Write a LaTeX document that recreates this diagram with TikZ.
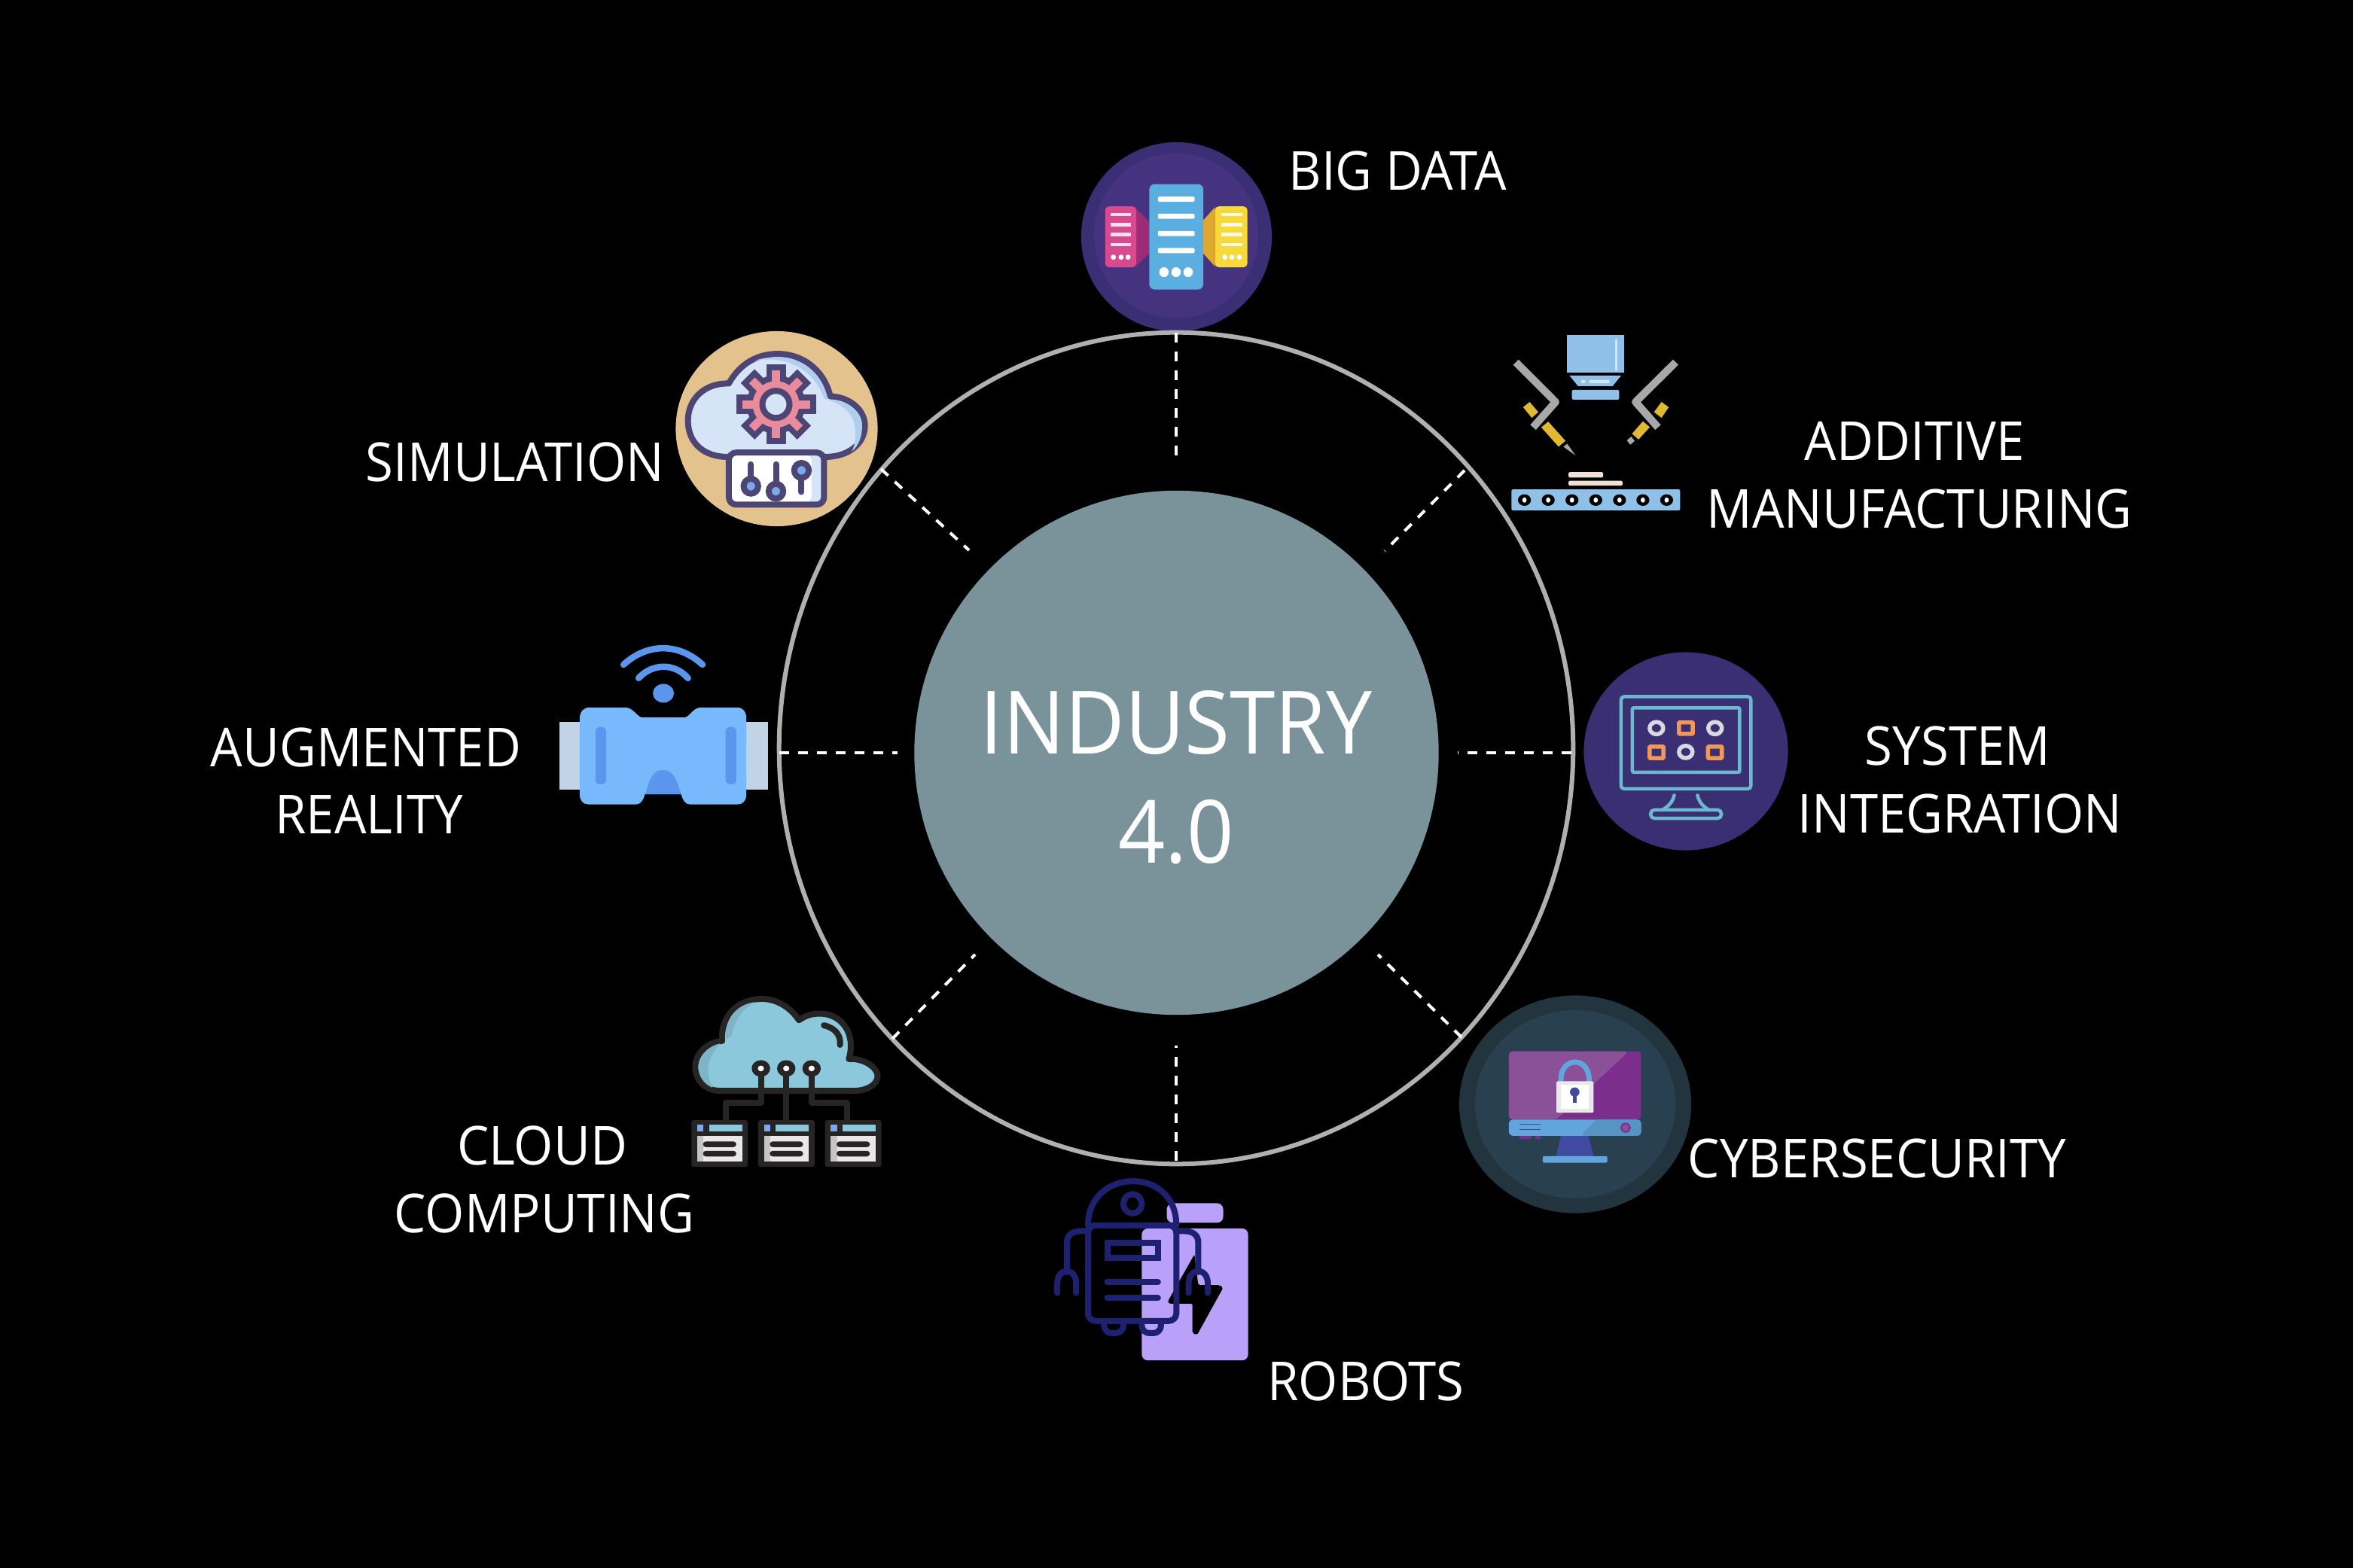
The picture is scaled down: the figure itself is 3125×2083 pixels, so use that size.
\documentclass[tikz,border=0pt]{standalone}
\usepackage{fontspec}
\setmainfont{Open Sans}[FakeStretch=0.94]
\usetikzlibrary{shapes.geometric}
\definecolor{hubgrey}{HTML}{7A9299}
\definecolor{ringgrey}{HTML}{B0B0B0}
\definecolor{dataouter}{HTML}{3A2F75}
\definecolor{datainner}{HTML}{45337F}
\definecolor{serverblue}{HTML}{5AAEE0}
\definecolor{serverpink}{HTML}{D8498F}
\definecolor{sidepink}{HTML}{9B2C75}
\definecolor{serveryellow}{HTML}{F8D93A}
\definecolor{sideyellow}{HTML}{E0A830}
\definecolor{printblue}{HTML}{8FC0E8}
\definecolor{armgrey}{HTML}{A8A8A8}
\definecolor{nozzle}{HTML}{E0B832}
\definecolor{plate}{HTML}{F0E0D5}
\definecolor{simdisc}{HTML}{E3C28E}
\definecolor{simline}{HTML}{4D4573}
\definecolor{simcloud}{HTML}{D6E4F7}
\definecolor{simshade}{HTML}{B0CFF0}
\definecolor{gearpink}{HTML}{E88B9C}
\definecolor{knob}{HTML}{7EA7EE}
\definecolor{vrdark}{HTML}{5B96EE}
\definecolor{vrbody}{HTML}{78B8FC}
\definecolor{vrstrap}{HTML}{C2D3E8}
\definecolor{cloudfill}{HTML}{8BC8DC}
\definecolor{cloudshade}{HTML}{7FB4C6}
\definecolor{cloudline}{HTML}{262425}
\definecolor{paper}{HTML}{E8E8E8}
\definecolor{botblue}{HTML}{1E2070}
\definecolor{botpurple}{HTML}{B9A0F8}
\definecolor{cyberouter}{HTML}{22343E}
\definecolor{cyberinner}{HTML}{28404F}
\definecolor{screenlight}{HTML}{8A5199}
\definecolor{screendark}{HTML}{7B2E8C}
\definecolor{barblue}{HTML}{62A5DD}
\definecolor{bardark}{HTML}{5594C5}
\definecolor{standblue}{HTML}{3F4AA0}
\definecolor{sysdisc}{HTML}{3A2F73}
\definecolor{sysline}{HTML}{6CB8CF}
\definecolor{sysorange}{HTML}{F0975A}
\definecolor{sysring}{HTML}{D8D8E0}
\tikzset{
  caption/.style={text=white,align=center,inner sep=0pt,font=\fontsize{20.3}{25.5}\selectfont},
  title/.style={text=white,align=center,inner sep=0pt,font=\fontsize{33}{41.4}\selectfont},
  disc/.style={ellipse,inner sep=0pt,outer sep=0pt},
  spoke/.style={white,line width=0.04cm,dash pattern=on 0.13cm off 0.12cm},
  zoomtop/.style={shift={(1400,170)},x=0.00574cm,y=-0.003827cm},
  zoomleft/.style={shift={(720,420)},x=0.003333cm,y=-0.004464cm},
  zoomlow/.style={shift={(880,1300)},x=0.005102cm,y=-0.003444cm},
  zoomright/.style={shift={(1900,850)},x=0.003333cm,y=-0.005102cm},
  simstroke/.style={draw=simline,line width=0.08cm},
  cloudstroke/.style={draw=cloudline,line width=0.08cm,line join=round},
  botstroke/.style={draw=botblue,line width=0.08cm,line cap=round},
  sysstroke/.style={draw=sysline,line width=0.045cm}
}
\begin{document}
\begin{tikzpicture}[x=0.01cm,y=-0.01cm]
  \fill[black] (0,0) rectangle (3125,2083);
  \useasboundingbox (0,0) rectangle (3125,2083);

  \node[disc,fill=dataouter,minimum width=2.53cm,minimum height=2.51cm] (bigdata) at (1562.5,314.5) {};
  \node[disc,fill=datainner,minimum width=2.18cm,minimum height=2.19cm] (bigdatain) at (1562,313) {};
  \begin{scope}[zoomtop]
    \fill[sidepink] (190,280) -- (220,325) -- (220,435) -- (190,478) -- cycle;
    \fill[sideyellow] (372,275) -- (345,320) -- (345,435) -- (372,480) -- cycle;
    \fill[serverpink,rounded corners=0.05cm] (118,272) rectangle (190,483);
    \fill[serveryellow,rounded corners=0.05cm] (372,272) rectangle (447,483);
    \fill[serverblue,rounded corners=0.07cm] (220,195) rectangle (345,560);
    \foreach \v in {247,306,366,425}
      \fill[white,rounded corners=0.02cm] (240,\v-9) rectangle (325,\v+9);
    \foreach \v in {300,335,370,405} {
      \fill[white!85!serverpink] (130,\v-6) rectangle (178,\v+6);
      \fill[white!85!serveryellow] (387,\v-6) rectangle (435,\v+6);
    }
    \foreach \u in {254,282,310}
      \fill[white] (\u,500) ellipse [x radius=11,y radius=17];
    \foreach \u in {137,155,171}
      \fill[white] (\u,448) ellipse [x radius=6,y radius=9];
    \foreach \u in {395,411,428}
      \fill[white] (\u,448) ellipse [x radius=6,y radius=9];
  \end{scope}

  \begin{scope}[zoomtop]
    \fill[printblue] (1187,718) rectangle (1318,847);
    \draw[white!60!printblue,line width=0.03cm,line cap=round] (1301,735) -- (1301,840);
    \fill[printblue] (1192,858) -- (1312,858) -- (1292,895) -- (1212,895) -- cycle;
    \fill[white!60!printblue,rounded corners=0.02cm] (1238,873) rectangle (1285,885);
    \fill[white!60!printblue] (1224,879) circle (6);
    \fill[printblue,rounded corners=0.02cm] (1198,908) rectangle (1307,942);
    \draw[armgrey,line width=0.1cm,line join=round] (1068,812) -- (1160,950) -- (1108,1038);
    \draw[armgrey,line width=0.1cm,line join=round] (1438,812) -- (1345,950) -- (1397,1038);
    \fill[nozzle] (1100,950) -- (1120,985) -- (1105,1005) -- (1085,968) -- cycle;
    \fill[nozzle] (1405,950) -- (1422,968) -- (1405,1005) -- (1388,985) -- cycle;
    \fill[nozzle] (1143,1018) -- (1183,1085) -- (1167,1105) -- (1127,1038) -- cycle;
    \fill[nozzle] (1362,1017) -- (1378,1037) -- (1352,1080) -- (1337,1060) -- cycle;
    \fill[armgrey] (1187,1095) -- (1206,1135) -- (1178,1105) -- cycle;
    \fill[armgrey] (1335,1070) -- (1343,1085) -- (1333,1098) -- (1325,1083) -- cycle;
    \fill[plate,rounded corners=0.02cm] (1190,1193) rectangle (1270,1212);
    \fill[plate,rounded corners=0.02cm] (1190,1223) rectangle (1315,1240);
    \fill[printblue,rounded corners=0.02cm] (1058,1253) rectangle (1448,1326);
    \foreach \u in {1088,1143,1198,1253,1308,1362,1417} {
      \fill[black] (\u,1290) ellipse [x radius=15,y radius=20];
      \fill[white] (\u,1290) ellipse [x radius=5,y radius=9];
    }
  \end{scope}

  \node[disc,fill=simdisc,minimum width=2.68cm,minimum height=2.59cm] (simulation) at (1031.5,569.5) {};
  \begin{scope}[zoomleft]
    \draw[simstroke,fill=simcloud,line join=round] (745,200) .. controls (790,140) and (860,112) .. (940,112) .. controls (1040,112) and (1125,160) .. (1150,238) .. controls (1230,240) and (1288,280) .. (1288,325) .. controls (1288,380) and (1220,418) .. (1130,418) -- (740,418) .. controls (650,418) and (582,380) .. (582,310) .. controls (582,245) and (650,198) .. (745,200) -- cycle;
    \fill[simshade] (850,132) .. controls (1000,115) and (1090,170) .. (1125,245) .. controls (1200,260) and (1250,290) .. (1250,345) .. controls (1250,370) and (1245,390) .. (1235,402) .. controls (1265,385) and (1277,355) .. (1277,325) .. controls (1277,285) and (1225,250) .. (1140,248) .. controls (1115,170) and (1040,122) .. (940,122) .. controls (905,122) and (875,125) .. (850,132) -- cycle;
    \begin{scope}[shift={(933,262)},x=0.01cm,y=-0.01cm]
      \foreach \a in {0,45,...,315}
        \draw[simstroke,fill=gearpink,rotate=\a] (-9,26) rectangle (9,49);
      \draw[simstroke,fill=gearpink] (0,0) circle (35);
      \foreach \a in {0,45,...,315}
        \fill[gearpink,rotate=\a] (-5.5,24) rectangle (5.5,45);
      \draw[simstroke,fill=simcloud] (0,0) circle (18);
    \end{scope}
    \fill[simcloud,rounded corners=0.1cm] (745,405) rectangle (1125,560);
    \fill[white,rounded corners=0.08cm] (752,412) rectangle (1075,553);
    \draw[simstroke,rounded corners=0.1cm] (745,405) rectangle (1125,560);
    \draw[simstroke,line cap=round] (833,440) -- (833,490);
    \draw[simstroke,line cap=round] (933,440) -- (933,500);
    \draw[simstroke,line cap=round] (1035,480) -- (1035,522);
    \draw[simstroke,fill=knob] (833,505) ellipse [x radius=29,y radius=22];
    \draw[simstroke,fill=knob] (933,520) ellipse [x radius=29,y radius=22];
    \draw[simstroke,fill=knob] (1035,458) ellipse [x radius=29,y radius=22];
  \end{scope}

  \begin{scope}[zoomleft]
    \draw[vrdark,line width=0.085cm,line cap=round] (325,1035) .. controls (420,970) and (545,970) .. (640,1035);
    \draw[vrdark,line width=0.085cm,line cap=round] (385,1075) .. controls (440,1030) and (530,1030) .. (582,1075);
    \fill[vrdark] (484,1120) ellipse [x radius=42,y radius=28];
    \fill[vrstrap] (68,1205) rectangle (900,1407);
    \fill[vrbody] (150,1195) .. controls (150,1175) and (165,1162) .. (190,1162) -- (330,1162) .. controls (365,1162) and (380,1192) .. (400,1192) -- (565,1192) .. controls (590,1192) and (600,1162) .. (635,1162) -- (780,1162) .. controls (800,1162) and (815,1175) .. (815,1195) -- (815,1420) .. controls (815,1440) and (800,1450) .. (780,1450) -- (590,1450) .. controls (570,1450) and (560,1435) .. (555,1420) -- (410,1420) .. controls (405,1435) and (395,1450) .. (375,1450) -- (185,1450) .. controls (165,1450) and (150,1440) .. (150,1420) -- cycle;
    \fill[vrdark] (412,1420) .. controls (430,1370) and (445,1348) .. (482,1348) .. controls (520,1348) and (535,1370) .. (555,1420) -- cycle;
    \fill[vrdark,rounded corners=0.06cm] (213,1220) rectangle (256,1390);
    \fill[vrdark,rounded corners=0.06cm] (732,1220) rectangle (775,1390);
  \end{scope}

  \begin{scope}[zoomlow]
    \draw[cloudstroke,fill=cloudfill] (155,240) .. controls (150,140) and (200,78) .. (258,78) .. controls (300,78) and (335,115) .. (355,160) .. controls (375,140) and (390,135) .. (410,135) .. controls (465,135) and (505,210) .. (485,310) .. controls (520,305) and (560,340) .. (560,375) .. controls (560,410) and (530,432) .. (500,432) -- (150,432) .. controls (110,432) and (85,390) .. (85,340) .. controls (85,290) and (115,245) .. (155,240) -- cycle;
    \fill[cloudshade] (95,340) .. controls (95,295) and (120,258) .. (150,250) .. controls (125,290) and (105,350) .. (130,420) .. controls (105,405) and (95,375) .. (95,340) -- cycle;
    \fill[cloudshade] (165,235) .. controls (160,150) and (195,100) .. (240,90) .. controls (205,120) and (185,170) .. (180,220) -- cycle;
    \draw[cloudstroke,line cap=round] (420,180) .. controls (450,190) and (465,220) .. (462,255);
    \draw[cloudstroke] (256,370) -- (256,478) -- (165,478) -- (165,545);
    \draw[cloudstroke] (322,370) -- (322,545);
    \draw[cloudstroke] (388,370) -- (388,478) -- (480,478) -- (480,545);
    \foreach \u in {256,322,388} {
      \fill[cloudline] (\u,346) ellipse [x radius=24,y radius=32];
      \fill[white] (\u,346) ellipse [x radius=8,y radius=11];
    }
    \foreach \bx in {0,174,348} {
      \begin{scope}[xshift=\bx*0.005102cm]
        \fill[cloudline,rounded corners=0.03cm] (75,545) rectangle (222,725);
        \fill[cloudfill] (121,563) rectangle (207,588);
        \fill[knob] (90,563) rectangle (106,588);
        \fill[paper] (90,607) rectangle (207,705);
        \fill[paper!85!black] (90,607) rectangle (106,705);
        \fill[cloudline,rounded corners=0.04cm] (105,627) rectangle (192,649);
        \fill[cloudline,rounded corners=0.04cm] (105,663) rectangle (192,685);
      \end{scope}
    }
  \end{scope}

  \begin{scope}[zoomlow]
    \fill[botpurple,rounded corners=0.08cm] (1313,940) -- (1313,865) -- (1460,865) -- (1460,940) -- cycle;
    \fill[botpurple,rounded corners=0.08cm] (1248,962) rectangle (1525,1470);
    \fill[black,rounded corners=0.02cm] (1385,1062) -- (1315,1245) -- (1320,1252) -- (1380,1252) -- (1380,1365) -- (1392,1372) -- (1460,1190) -- (1450,1180) -- (1395,1180) -- cycle;
    \draw[botstroke] (1108,950) .. controls (1108,840) and (1165,780) .. (1225,780) .. controls (1285,780) and (1338,840) .. (1338,950);
    \draw[botstroke,rounded corners=0.1cm] (1108,950) rectangle (1338,1318);
    \draw[botstroke] (1224,867) ellipse [x radius=24,y radius=37];
    \draw[botstroke] (1158,1018) rectangle (1290,1075);
    \draw[botstroke] (1158,1168) -- (1290,1168);
    \draw[botstroke] (1158,1230) -- (1290,1230);
    \draw[botstroke,rounded corners=0.1cm] (1150,1320) -- (1150,1365) -- (1200,1365) -- (1200,1320);
    \draw[botstroke,rounded corners=0.1cm] (1248,1320) -- (1248,1365) -- (1298,1365) -- (1298,1320);
    \draw[botstroke] (1108,972) -- (1090,972) .. controls (1065,972) and (1053,990) .. (1053,1015) -- (1053,1130);
    \draw[botstroke] (1028,1210) -- (1028,1175) .. controls (1028,1110) and (1077,1110) .. (1077,1175) -- (1077,1210);
    \draw[botstroke] (1338,972) -- (1358,972) .. controls (1383,972) and (1395,990) .. (1395,1015) -- (1395,1130);
    \draw[botstroke] (1370,1210) -- (1370,1175) .. controls (1370,1110) and (1420,1110) .. (1420,1175) -- (1420,1210);
  \end{scope}

  \node[disc,fill=cyberouter,minimum width=3.08cm,minimum height=2.89cm] (cyber) at (2092,1467) {};
  \node[disc,fill=cyberinner,minimum width=2.66cm,minimum height=2.5cm] (cyberin) at (2092,1467) {};
  \begin{scope}[zoomright]
    \fill[screendark,rounded corners=0.05cm] (312,1250) -- (312,1072) -- (840,1072) -- (840,1250) -- cycle;
    \fill[screenlight,rounded corners=0.05cm] (312,1250) -- (312,1072) -- (790,1072) -- (500,1250) -- cycle;
    \fill[screendark] (355,1292) rectangle (403,1300);
    \fill[screendark] (418,1292) rectangle (440,1300);
    \fill[standblue] (520,1292) -- (630,1292) -- (650,1345) -- (500,1345) -- cycle;
    \fill[barblue,rounded corners=0.05cm] (312,1250) -- (840,1250) -- (840,1292) -- (312,1292) -- cycle;
    \fill[bardark,rounded corners=0.05cm] (660,1250) -- (840,1250) -- (840,1292) -- (600,1292) -- cycle;
    \fill[barblue,rounded corners=0.02cm] (447,1345) rectangle (705,1362);
    \draw[standblue,line width=0.012cm] (355,1262) -- (440,1262);
    \draw[standblue,line width=0.012cm] (355,1275) -- (440,1275);
    \draw[screendark,fill=screenlight,line width=0.02cm] (778,1271) ellipse [x radius=18,y radius=11];
    \draw[barblue,line width=0.07cm] (520,1155) -- (520,1145) .. controls (520,1085) and (632,1085) .. (632,1145) -- (632,1155);
    \fill[paper,rounded corners=0.02cm] (502,1150) rectangle (650,1232);
    \fill[white] (520,1158) rectangle (632,1222);
    \fill[standblue] (575,1178) ellipse [x radius=19,y radius=12];
    \fill[standblue] (567,1178) rectangle (583,1207);
  \end{scope}

  \node[disc,fill=sysdisc,minimum width=2.71cm,minimum height=2.63cm] (system) at (2239,998) {};
  \begin{scope}[zoomright]
    \draw[sysstroke,rounded corners=0.04cm] (760,148) rectangle (1278,388);
    \draw[sysstroke,rounded corners=0.02cm] (805,177) rectangle (1233,345);
    \foreach \u/\v in {901/230,1135/230,1018/292}
      \draw[sysring,line width=0.055cm] (\u,\v) ellipse [x radius=27,y radius=16];
    \foreach \u/\v in {987/210,870/273,1103/273}
      \draw[sysorange,line width=0.055cm,rounded corners=0.01cm] (\u+4,\v+5) rectangle (\u+59,\v+35);
    \draw[sysstroke,line cap=round] (972,405) .. controls (965,425) and (945,435) .. (925,443);
    \draw[sysstroke,line cap=round] (1065,405) .. controls (1072,425) and (1090,435) .. (1110,443);
    \draw[sysstroke,rounded corners=0.05cm] (878,443) rectangle (1160,465);
  \end{scope}

  \node[disc,draw=ringgrey,line width=0.06cm,minimum width=10.54cm,minimum height=11.04cm] (ring) at (1562,994) {};
  \node[circle,fill=hubgrey,inner sep=0pt,minimum size=6.96cm] (hub) at (1562.5,1000) {};
  \node[title] (hubtext) at (1562,1033) {INDUSTRY\\4.0};

  \coordinate (topa) at (1562,442);
  \coordinate (topb) at (1562,605);
  \coordinate (nea) at (1945,625);
  \coordinate (neb) at (1839,732);
  \coordinate (righta) at (2087,1000);
  \coordinate (rightb) at (1936,1000);
  \coordinate (sea) at (1941,1378);
  \coordinate (seb) at (1830,1268);
  \coordinate (lowa) at (1562,1542);
  \coordinate (lowb) at (1562,1389);
  \coordinate (swa) at (1185,1380);
  \coordinate (swb) at (1295,1268);
  \coordinate (lefta) at (1035,1000);
  \coordinate (leftb) at (1192,1000);
  \coordinate (nwa) at (1170,623);
  \coordinate (nwb) at (1287,731);
  \draw[spoke] (topa) -- (topb);
  \draw[spoke] (nea) -- (neb);
  \draw[spoke] (righta) -- (rightb);
  \draw[spoke] (sea) -- (seb);
  \draw[spoke] (lowa) -- (lowb);
  \draw[spoke] (swa) -- (swb);
  \draw[spoke] (lefta) -- (leftb);
  \draw[spoke] (nwa) -- (nwb);

  \node[caption] (bigdatatext) at (1856,227) {BIG DATA};
  \node[caption] (additivetext) at (2549,631) {ADDITIVE\hspace*{0.12cm}\\MANUFACTURING};
  \node[caption] (systemtext) at (2603,1036) {SYSTEM\hspace*{0.06cm}\\INTEGRATION};
  \node[caption] (cybertext) at (2493,1539) {CYBERSECURITY};
  \node[caption] (robotstext) at (1814,1835) {ROBOTS};
  \node[caption] (cloudtext) at (723,1567) {CLOUD\hspace*{0.06cm}\\COMPUTING};
  \node[caption] (artext) at (490,1037) {AUGMENTED\hspace*{0.08cm}\\REALITY};
  \node[caption] (simtext) at (684,614) {SIMULATION};
\end{tikzpicture}
\end{document}
